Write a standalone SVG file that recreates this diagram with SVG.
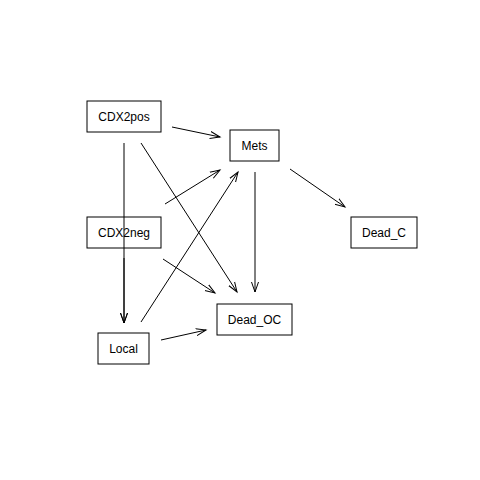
<svg xmlns="http://www.w3.org/2000/svg" width="480" height="480" viewBox="0 0 480 480">
<defs>
<marker id="ah" markerWidth="12" markerHeight="10" refX="10" refY="5" orient="auto" markerUnits="userSpaceOnUse">
<path d="M0,1.5 L10,5 L0,8.5" fill="none" stroke="#000" stroke-width="1"/>
</marker>
<style>
.n rect{fill:none;stroke:#000;stroke-width:1}
.n text{font-family:"Liberation Sans",Arial,sans-serif;font-size:12px;text-anchor:middle;dominant-baseline:central;fill:#000}
.e line{stroke:#000;stroke-width:1;marker-end:url(#ah)}
</style>
</defs>
<rect width="480" height="480" fill="#fff"/>
<g id="edges" class="e">
<line x1="172" y1="127" x2="220" y2="137"/>
<line x1="124" y1="143" x2="124" y2="323"/>
<line x1="124" y1="258" x2="124" y2="323"/>
<line x1="141" y1="143" x2="237" y2="292"/>
<line x1="165" y1="204" x2="220" y2="170"/>
<line x1="141" y1="322" x2="238" y2="172"/>
<line x1="163" y1="259" x2="215" y2="293"/>
<line x1="255" y1="172" x2="255" y2="292"/>
<line x1="161" y1="340" x2="206" y2="330"/>
<line x1="290" y1="169" x2="345" y2="207"/>
</g>
<g id="CDX2pos" class="n"><rect x="87" y="101" width="74" height="31"/><text x="124" y="116.5">CDX2pos</text></g>
<g id="Mets" class="n"><rect x="230" y="130" width="49" height="31"/><text x="254.5" y="145.5">Mets</text></g>
<g id="CDX2neg" class="n"><rect x="87" y="217" width="74" height="31"/><text x="124" y="232.5">CDX2neg</text></g>
<g id="Dead_C" class="n"><rect x="351" y="217" width="66" height="31"/><text x="384" y="232.5">Dead_C</text></g>
<g id="Dead_OC" class="n"><rect x="217" y="304" width="75" height="31"/><text x="254.5" y="319.5">Dead_OC</text></g>
<g id="Local" class="n"><rect x="98" y="333" width="51" height="31"/><text x="123.5" y="348.5">Local</text></g>
</svg>
